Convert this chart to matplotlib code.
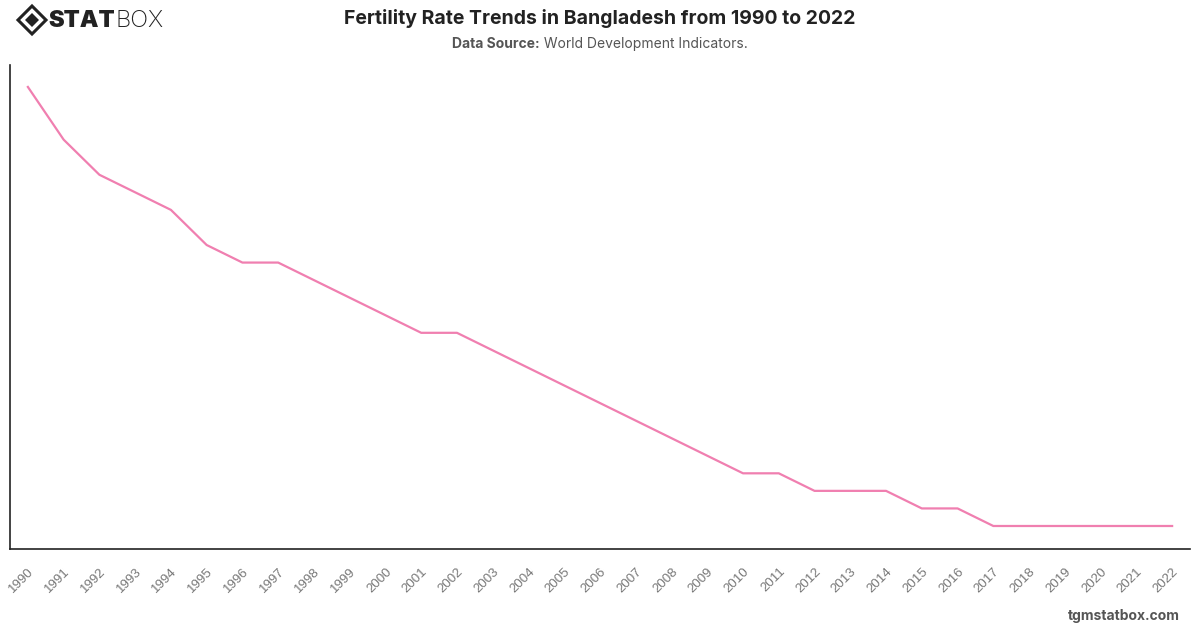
import numpy as np
import matplotlib.pyplot as plt
from matplotlib.patches import Polygon

# dados: taxa de fecundidade (nascimentos por mulher), Bangladesh
anos = [str(a) for a in range(1990, 2023)]
fecundidade = [4.4, 4.1, 3.9, 3.8, 3.7, 3.5, 3.4, 3.4, 3.3, 3.2, 3.1,
               3.0, 3.0, 2.9, 2.8, 2.7, 2.6, 2.5, 2.4, 2.3, 2.2, 2.2,
               2.1, 2.1, 2.1, 2.0, 2.0, 1.9, 1.9, 1.9, 1.9, 1.9, 1.9]

plt.rcParams['font.family'] = ['Inter', 'DejaVu Sans']

fig = plt.figure(figsize=(12, 6.28), dpi=100)
ax = fig.add_axes([10/1200, 79/628, 1180/1200, 484/628])

x = np.arange(len(anos))
ax.plot(x, fecundidade, color='#f07fb0', linewidth=1.6)

ax.set_xlim(-0.5, len(anos) - 0.5)
ax.set_ylim(1.769, 4.525)
ax.set_xticks(x)
ax.set_xticklabels(anos, rotation=45, ha='right', rotation_mode='anchor',
                   fontsize=9.5, color='#777777', family='Liberation Sans')
ax.tick_params(axis='x', length=0, pad=12)
ax.set_yticks([])
for lado in ['top', 'right']:
    ax.spines[lado].set_visible(False)
for lado in ['left', 'bottom']:
    ax.spines[lado].set_color('#222222')
    ax.spines[lado].set_linewidth(1.2)

# titulo e fonte
fig.text(0.5, 1 - 18/628, 'Fertility Rate Trends in Bangladesh from 1990 to 2022',
         ha='center', va='center', fontsize=14, fontweight='bold', color='#222222')
fig.canvas.draw()
r = fig.canvas.get_renderer()
s1 = fig.text(0, 1 - 44/628, 'Data Source:', ha='left', va='center', fontsize=10,
              fontweight='bold', color='#555555')
s2 = fig.text(0, 1 - 44/628, ' World Development Indicators.', ha='left', va='center',
              fontsize=10, color='#555555')
w1 = s1.get_window_extent(r).width
w2 = s2.get_window_extent(r).width
x0 = 600 - (w1 + w2) / 2
s1.set_x(x0 / 1200)
s2.set_x((x0 + w1) / 1200)
fig.text(1180/1200, 1 - 616/628, 'tgmstatbox.com', ha='right', va='center',
         fontsize=10, fontweight='bold', color='#555555')

# logo
cx, cy, rx = 32/1200, 1 - 20/628, 14/1200
ry = rx * 1200 / 628
fig.patches.append(Polygon([[cx - rx, cy], [cx, cy + ry], [cx + rx, cy], [cx, cy - ry]],
                           closed=True, facecolor='none', edgecolor='#222222',
                           linewidth=2.2, transform=fig.transFigure))
r2, ry2 = rx * 0.5, ry * 0.5
fig.patches.append(Polygon([[cx - r2, cy], [cx, cy + ry2], [cx + r2, cy], [cx, cy - ry2]],
                           closed=True, facecolor='#222222', edgecolor='none',
                           transform=fig.transFigure))
t = fig.text(48/1200, 1 - 21/628, 'STAT', ha='left', va='center', fontsize=17,
             fontweight='black', color='#222222')
bb = t.get_window_extent(r)
fig.text(bb.x1 / 1200 + 0.001, 1 - 21/628, 'BOX', ha='left', va='center',
         fontsize=17, fontweight='light', color='#222222')

fig.savefig('out.png', dpi=100)
